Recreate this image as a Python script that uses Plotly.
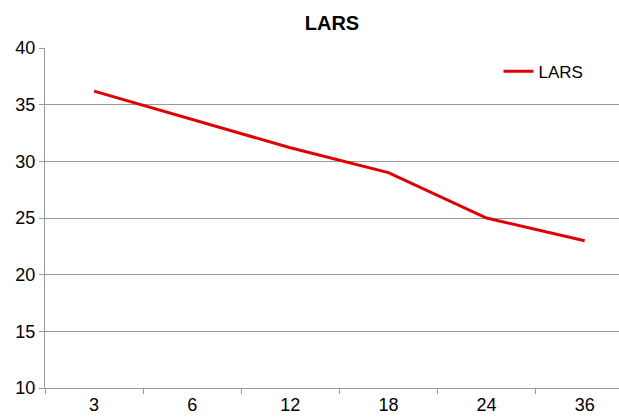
import plotly.graph_objects as go

categories = ["3", "6", "12", "18", "24", "36"]
lars_values = [36.2, 33.7, 31.2, 29.0, 25.0, 23.0]
y_ticks = [10, 15, 20, 25, 30, 35, 40]

fig = go.Figure()
fig.add_trace(go.Scatter(
    x=categories, y=lars_values, mode="lines", name="LARS",
    line=dict(color="#E00000", width=3),
))

fig.update_layout(
    width=619, height=418,
    margin=dict(l=45, r=0, t=48, b=30, autoexpand=False),
    paper_bgcolor="white", plot_bgcolor="white",
    font=dict(family="Liberation Sans, Arial, sans-serif", size=18, color="black"),
    title=dict(text="<b>LARS</b>", x=0.5, xref="paper", xanchor="center",
               y=0.945, yref="container", yanchor="middle",
               font=dict(size=20, color="black")),
    showlegend=True,
    legend=dict(x=0.79, y=0.93, xanchor="left", yanchor="middle",
                bgcolor="rgba(0,0,0,0)", font=dict(size=17)),
    xaxis=dict(type="category", range=[-0.5, 5.35], tickson="boundaries",
               ticks="outside", ticklen=5, tickcolor="#999999",
               showline=True, linecolor="#999999", linewidth=1,
               showgrid=False, tickfont=dict(size=18), automargin=False),
    yaxis=dict(range=[10, 40], tickvals=y_ticks,
               ticks="outside", ticklen=5, tickcolor="#999999",
               showline=True, linecolor="#999999", linewidth=1,
               showgrid=True, gridcolor="#999999", gridwidth=1,
               zeroline=False, tickfont=dict(size=18), automargin=False),
)

fig.write_html("out.html", config={"displayModeBar": False},
               post_script="document.body.style.margin='0';document.body.style.overflow='hidden';")
